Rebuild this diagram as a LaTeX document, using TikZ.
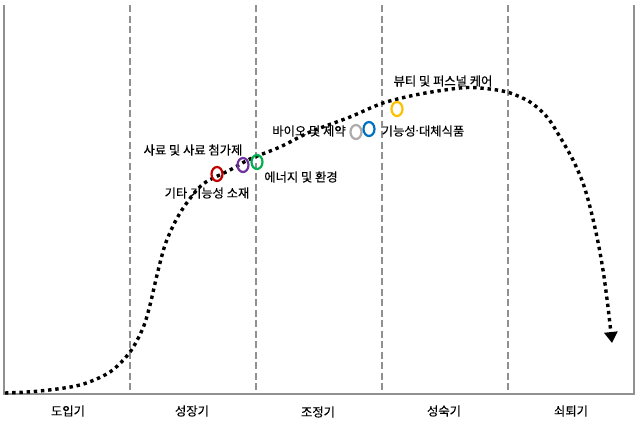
\documentclass[tikz,border=0pt]{standalone}
\usepackage{fontspec}
\setmainfont[FakeBold=0.4]{Noto Sans CJK KR}
\newfontfamily\dotfont{Noto Sans}
\usetikzlibrary{arrows.meta,shapes.geometric}
\definecolor{framegray}{HTML}{909090}
\definecolor{mkred}{HTML}{C00000}
\definecolor{mkpurple}{HTML}{7030A0}
\definecolor{mkgreen}{HTML}{00B050}
\definecolor{mkgray}{HTML}{AFABAB}
\definecolor{mkblue}{HTML}{0070C0}
\definecolor{mkyellow}{HTML}{FFC000}
\begin{document}
\begin{tikzpicture}[x=1pt,y=-1pt,
  marker/.style={draw=#1, ellipse, line width=2.2pt, minimum width=11pt, minimum height=14pt, inner sep=0pt},
  lbl/.style={font=\fontsize{12.3}{14}\selectfont, inner sep=0pt}]
\useasboundingbox (0,0) rectangle (639,423);
\draw[framegray, line width=2.5pt] (4,5) -- (4,394) -- (634,394) -- (634,5);
\foreach \x in {130,256,382,508}
  \draw[framegray, line width=2pt, dash pattern=on 7pt off 3.5pt] (\x,5) -- (\x,394);

\node (a) at (68,411) [lbl] {도입기};
\node (b) at (192,411) [lbl] {성장기};
\node (c) at (318,412) [lbl] {조정기};
\node (d) at (444,411) [lbl] {성숙기};
\node (e) at (571,411) [lbl] {쇠퇴기};

\draw[line width=3.4pt, dash pattern=on 3.4pt off 3.8pt, -{Triangle[length=11pt,width=13pt]}]
  plot[smooth, tension=0.5] coordinates {
  (5,393) (40,391) (80,385) (110,372) (130,352) (143,328) (150,305)
  (157,275) (165,245) (175,222) (186,204) (203,184) (230,170) (250,159)
  (280,147) (310,132) (350,117) (383,103) (420,94) (460,88) (480,88)
  (507,92) (530,102) (547,117) (560,137) (573,160) (583,183) (590,207)
  (597,237) (603,270) (608,307) (612,343)};

\node (1) at (217,174) [marker=mkred] {};
\node (2) at (243,165) [marker=mkpurple] {};
\node (3) at (257,162) [marker=mkgreen] {};
\node (4) at (356,132) [marker=mkgray] {};
\node (5) at (369,129) [marker=mkblue] {};
\node (6) at (397,109) [marker=mkyellow] {};

\node (t1) at (193,150) [lbl] {사료 및 사료 첨가제};
\node (t2) at (207,193) [lbl] {기타 기능성 소재};
\node (t3) at (301,177) [lbl] {에너지 및 환경};
\node (t4) at (309,131) [lbl] {바이오 및 제약};
\node (t5) at (423,131) [lbl] {기능성{\dotfont ·}대체식품};
\node (t6) at (443,81) [lbl] {뷰티 및 퍼스널 케어};
\end{tikzpicture}
\end{document}
